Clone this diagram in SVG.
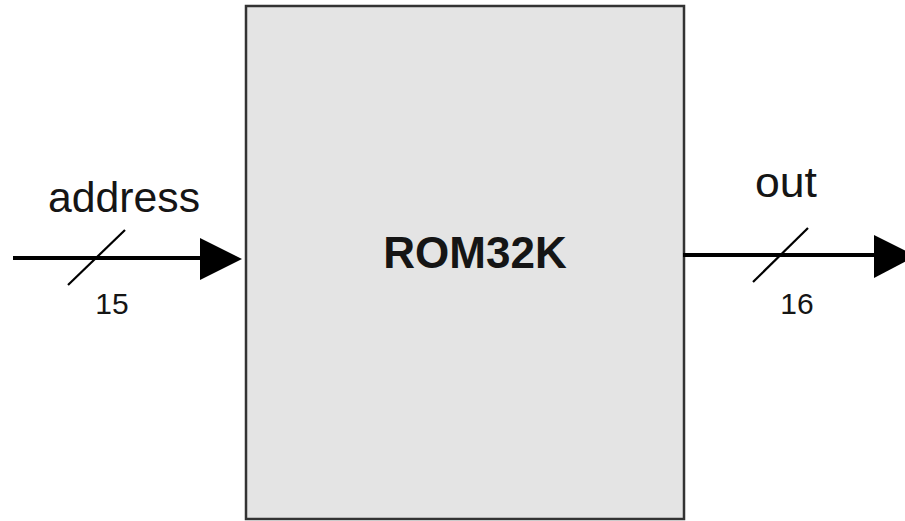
<svg xmlns="http://www.w3.org/2000/svg" width="905" height="521" viewBox="0 0 905 521">
<style>
.lbl{font-family:"Liberation Sans",Arial,sans-serif;fill:#151515;text-anchor:middle}
.wire{stroke:#000;stroke-width:4;fill:none}
.slash{stroke:#000;stroke-width:2.2;fill:none}
.head{fill:#000}
</style>
<rect width="905" height="521" fill="#fff"/>
<g id="rom32k">
<rect x="246" y="6" width="438" height="513" fill="#e4e4e4" stroke="#333" stroke-width="2.5"/>
<text class="lbl" x="475" y="268" font-size="44" font-weight="bold">ROM32K</text>
</g>
<g id="connectors">
<line class="wire" x1="13" y1="258" x2="204" y2="258"/>
<polygon class="head" points="200,238 242,259 200,280"/>
<line class="slash" x1="68" y1="285" x2="125" y2="230"/>
<line class="wire" x1="683" y1="255" x2="878" y2="255"/>
<polygon class="head" points="874,235 916,256 874,278"/>
<line class="slash" x1="753" y1="282" x2="808" y2="228"/>
</g>
<g id="labels">
<text class="lbl" x="124" y="212" font-size="42" textLength="152" lengthAdjust="spacingAndGlyphs">address</text>
<text class="lbl" x="786" y="197" font-size="42" textLength="62" lengthAdjust="spacingAndGlyphs">out</text>
<text class="lbl" x="112" y="314" font-size="30">15</text>
<text class="lbl" x="797" y="314" font-size="30">16</text>
</g>
</svg>
